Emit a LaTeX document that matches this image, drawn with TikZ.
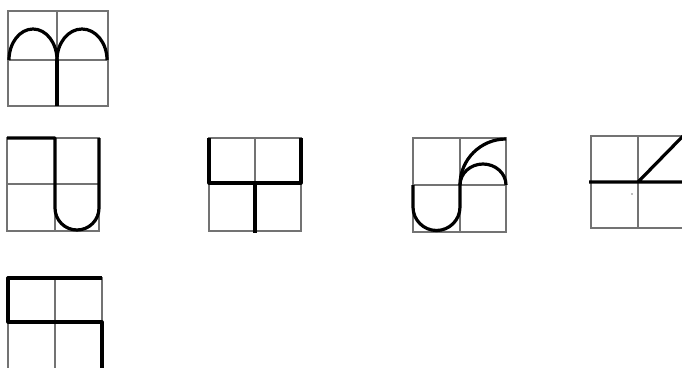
\documentclass[tikz,border=0pt]{standalone}
\begin{document}
\begin{tikzpicture}[x=1pt,y=-1pt,
  thinln/.style={draw=black!55, line width=1.3pt},
  thickln/.style={draw=black, line width=3.2pt, line join=round}]
\useasboundingbox (0,0) rectangle (682,367);
% box 1
\draw[thinln] (8,11) rectangle (108,106) (57,11)--(57,106) (8,60)--(108,60);
\draw[thickln] (9,60) arc[start angle=180,end angle=360,x radius=24,y radius=31];
\draw[thickln] (57,60) arc[start angle=180,end angle=360,x radius=25,y radius=31];
\draw[thickln] (57,60)--(57,106);
% box 2
\draw[thinln] (7,138) rectangle (99,231) (55,138)--(55,231) (7,184)--(99,184);
\draw[thickln] (7,138)--(55,138)--(55,208) arc[start angle=180,end angle=0,radius=22] -- (99,138);
% box 3
\draw[thinln] (209,138) rectangle (301,231) (255,138)--(255,231) (209,183)--(301,183);
\draw[thickln] (209,138)--(209,183)--(301,183)--(301,138) (255,183)--(255,233);
% box 4
\draw[thinln] (413,138) rectangle (506,232) (460,138)--(460,232) (413,185)--(506,185);
\draw[thickln] (413,185)--(413,207) arc[start angle=180,end angle=0,radius=23.5] -- (460,185);
\draw[thickln] (460,185) arc[start angle=180,end angle=270,radius=46];
\draw[thickln] (460,185) arc[start angle=180,end angle=360,x radius=23,y radius=21];
% box 5
\draw[thinln] (682,136)--(591,136)--(591,228)--(682,228) (638,136)--(638,228);
\draw[thickln] (589,182)--(683,182) (638,182)--(684,135);
\fill[black!50] (632,194) circle[radius=0.8];
% box 6
\draw[thinln] (8,278) rectangle (102,370) (55,278)--(55,370) (8,322)--(102,322);
\draw[thickln] (102,278)--(8,278)--(8,322)--(102,322)--(102,370);
\end{tikzpicture}
\end{document}
